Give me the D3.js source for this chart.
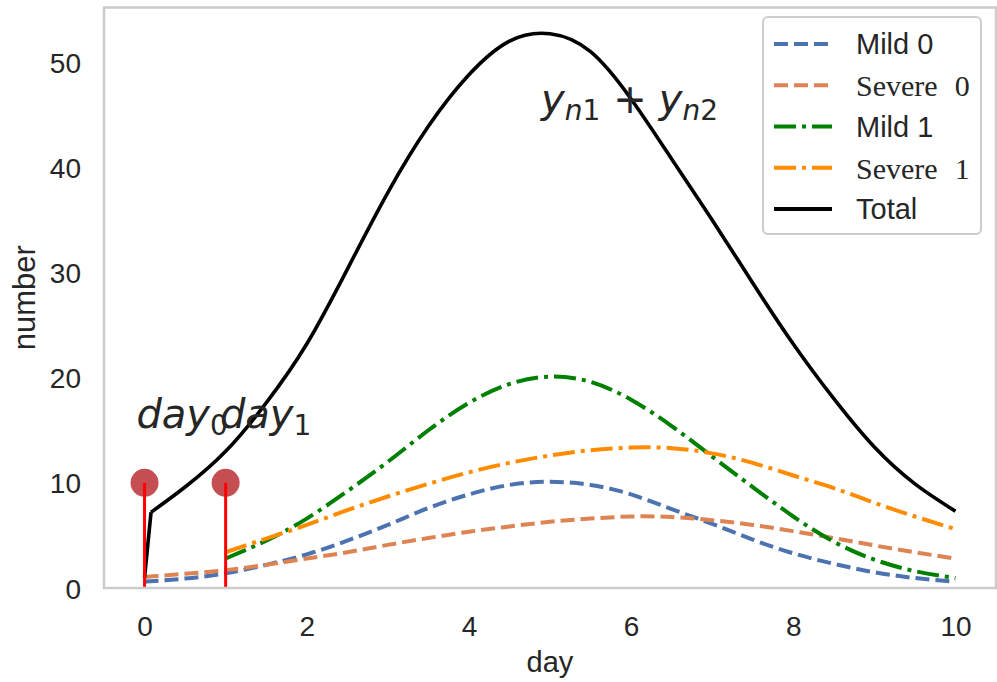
<!DOCTYPE html>
<html>
<head>
<meta charset="utf-8">
<style>
  body { margin: 0; background: #fff; }
  .axis text {
    fill: #262626;
    font-family: "Liberation Sans", Arial, sans-serif;
    font-size: 28px;
  }
  text.axis_title {
    fill: #262626;
    font-family: "Liberation Sans", Arial, sans-serif;
    font-size: 29px;
  }
  .legend text {
    fill: #262626;
  }
  .math {
    fill: #262626;
    font-family: "DejaVu Sans", sans-serif;
  }
</style>
</head>
<body>
<script src="https://d3js.org/d3.v7.min.js"></script>
<script>
// values
var days = [0, 0.5, 1, 1.5, 2, 2.5, 3, 3.5, 4, 4.5, 5, 5.5, 6, 6.5, 7, 7.5, 8, 8.5, 9, 9.5, 10];
var mild0 = [0.6, 0.9, 1.4, 2.2, 3.2, 4.5, 6.0, 7.6, 8.9, 9.8, 10.1, 9.8, 8.9, 7.5, 6.1, 4.6, 3.3, 2.3, 1.5, 0.95, 0.6];
var severe0 = [1.05, 1.35, 1.7, 2.2, 2.8, 3.4, 4.1, 4.75, 5.35, 5.85, 6.3, 6.6, 6.8, 6.75, 6.45, 6.0, 5.4, 4.75, 4.05, 3.4, 2.8];

var days1 = [1, 1.5, 2, 2.5, 3, 3.5, 4, 4.5, 5, 5.5, 6, 6.5, 7, 7.5, 8, 8.5, 9, 9.5, 10];
var mild1 = [2.8, 4.5, 6.6, 9.2, 12.0, 15.0, 17.6, 19.4, 20.1, 19.6, 17.9, 15.4, 12.5, 9.6, 6.8, 4.4, 2.7, 1.6, 0.95];
var severe1 = [3.4, 4.7, 6.0, 7.4, 8.7, 9.9, 11.0, 11.9, 12.6, 13.1, 13.35, 13.3, 12.8, 11.9, 10.7, 9.5, 8.1, 6.8, 5.6];

var totalDays = [0, 0.08, 0.5, 1, 1.5, 2, 2.5, 3, 3.5, 4, 4.5, 5, 5.5, 6, 6.5, 7, 7.5, 8, 8.5, 9, 9.5, 10];
var total = [1.0, 7.2, 9.6, 13.0, 17.6, 23.2, 30.3, 37.6, 43.9, 48.8, 52.0, 52.7, 51.0, 46.5, 40.8, 35.0, 29.0, 23.2, 18.0, 13.4, 9.9, 7.3];

var stemDays = [0, 1];
var stemValues = [10, 10];

var xTicks = [0, 2, 4, 6, 8, 10];
var yTicks = [0, 10, 20, 30, 40, 50];

var seriesNames = ["Mild 0", "Severe 0", "Mild 1", "Severe 1", "Total"];

var series = [
  { name: seriesNames[0], xs: days, ys: mild0, color: "#4c72b0", dash: "14,6" },
  { name: seriesNames[1], xs: days, ys: severe0, color: "#dd8452", dash: "14,6" },
  { name: seriesNames[2], xs: days1, ys: mild1, color: "#008000", dash: "22,6,4,6" },
  { name: seriesNames[3], xs: days1, ys: severe1, color: "#ff8c00", dash: "22,6,4,6" },
  { name: seriesNames[4], xs: totalDays, ys: total, color: "#000000", dash: null }
];

var width = 997, height = 682;
var frame = { left: 104, right: 996, top: 7.5, bottom: 588 };

var x = d3.scaleLinear()
    .domain([-0.5, 10.5])
    .range([frame.left, frame.right]);

var y = d3.scaleLinear()
    .domain([0, 55.2])
    .range([frame.bottom, frame.top]);

var svg = d3.select("body").append("svg")
    .attr("width", width)
    .attr("height", height);

svg.append("defs").append("clipPath")
    .attr("id", "plotclip")
  .append("rect")
    .attr("x", frame.left)
    .attr("y", frame.top)
    .attr("width", frame.right - frame.left)
    .attr("height", frame.bottom - frame.top);

var plot = svg.append("g").attr("clip-path", "url(#plotclip)");

var smooth = d3.line()
    .x(function(d) { return x(d[0]); })
    .y(function(d) { return y(d[1]); })
    .curve(d3.curveNatural);

var straight = d3.line()
    .x(function(d) { return x(d[0]); })
    .y(function(d) { return y(d[1]); });

series.forEach(function(s) {
  var pts = s.xs.map(function(v, i) { return [v, s.ys[i]]; });
  var w = s.dash ? 4 : 3.6;
  if (s.dash) {
    plot.append("path")
      .datum(pts)
      .attr("d", smooth)
      .attr("fill", "none")
      .attr("stroke", s.color)
      .attr("stroke-width", w)
      .attr("stroke-dasharray", s.dash);
  } else {
    // the total jumps right after day 0, then runs smooth
    plot.append("path")
      .datum(pts.slice(0, 2))
      .attr("d", straight)
      .attr("fill", "none")
      .attr("stroke", s.color)
      .attr("stroke-width", w);
    plot.append("path")
      .datum(pts.slice(1))
      .attr("d", smooth)
      .attr("fill", "none")
      .attr("stroke", s.color)
      .attr("stroke-width", w)
      .attr("stroke-linejoin", "round");
  }
});

// stem markers
plot.selectAll("circle.stem")
    .data(stemDays)
    .enter().append("circle")
    .attr("class", "stem")
    .attr("cx", function(d) { return x(d); })
    .attr("cy", function(d, i) { return y(stemValues[i]); })
    .attr("r", 14)
    .attr("fill", "#c44e52");

plot.selectAll("line.stem")
    .data(stemDays)
    .enter().append("line")
    .attr("class", "stem")
    .attr("x1", function(d) { return x(d); })
    .attr("x2", function(d) { return x(d); })
    .attr("y1", y(0))
    .attr("y2", function(d, i) { return y(stemValues[i]); })
    .attr("stroke", "#ff0000")
    .attr("stroke-width", 3);

// frame
svg.append("rect")
    .attr("x", frame.left)
    .attr("y", frame.top)
    .attr("width", frame.right - frame.left)
    .attr("height", frame.bottom - frame.top)
    .attr("fill", "none")
    .attr("stroke", "#cccccc")
    .attr("stroke-width", 2.5);

// axes
var xAxis = svg.append("g")
    .attr("class", "x axis")
    .attr("transform", "translate(0," + frame.bottom + ")")
    .call(d3.axisBottom(x).tickValues(xTicks).tickSize(0).tickFormat(d3.format("d")));
xAxis.select(".domain").remove();
xAxis.selectAll("text").attr("y", 48).attr("dy", null);

var yAxis = svg.append("g")
    .attr("class", "y axis")
    .attr("transform", "translate(" + frame.left + ",0)")
    .call(d3.axisLeft(y).tickValues(yTicks).tickSize(0).tickFormat(d3.format("d")));
yAxis.select(".domain").remove();
yAxis.selectAll("text").attr("x", -23).attr("dy", "0.36em");

svg.append("text")
    .attr("class", "axis_title")
    .attr("x", (frame.left + frame.right) / 2)
    .attr("y", 672)
    .attr("text-anchor", "middle")
    .text("day");

svg.append("text")
    .attr("class", "axis_title")
    .attr("transform", "translate(35," + (frame.top + frame.bottom) / 2 + ") rotate(-90)")
    .attr("text-anchor", "middle")
    .style("font-size", "31px")
    .text("number");

// math annotations: 0 = italic symbol, 1 = upright subscript, 2 = italic subscript, 3 = operator
var notes = [
  { x: -0.1, y: 15.2, parts: [["day", 0], ["0", 1]] },
  { x: 0.93, y: 15.2, parts: [["day", 0], ["1", 1]] },
  { x: 4.89, y: 45.2, parts: [["y", 0], ["n", 2], ["1", 1], ["+", 3], ["y", 0], ["n", 2], ["2", 1]] }
];

notes.forEach(function(n) {
  var t = svg.append("text")
      .attr("class", "math")
      .attr("x", x(n.x))
      .attr("y", y(n.y));
  var sub = false, afterOp = false;
  n.parts.forEach(function(p) {
    var kind = p[1];
    var ts = t.append("tspan").text(p[0]);
    if (kind === 0) {
      ts.attr("font-size", 40).attr("font-style", "italic");
      if (sub) { ts.attr("dy", -7); sub = false; }
      if (afterOp) { ts.attr("dx", 12); afterOp = false; }
    } else if (kind === 3) {
      ts.attr("font-size", 40).attr("dx", 13).attr("dy", sub ? -7 : 0);
      sub = false;
      afterOp = true;
    } else {
      ts.attr("font-size", 28).attr("font-style", kind === 2 ? "italic" : "normal");
      if (!sub) { ts.attr("dy", 7); sub = true; }
    }
  });
});

// legend
var legend = svg.append("g").attr("class", "legend");
legend.append("rect")
    .attr("x", 763)
    .attr("y", 17)
    .attr("width", 218)
    .attr("height", 217)
    .attr("rx", 5)
    .attr("fill", "#ffffff")
    .attr("fill-opacity", 0.8)
    .attr("stroke", "#cccccc")
    .attr("stroke-width", 2);

var rowY = d3.scaleLinear().domain([0, 4]).range([44, 209]);

series.forEach(function(s, i) {
  var ry = rowY(i);
  legend.append("line")
      .attr("x1", 774)
      .attr("x2", 832)
      .attr("y1", ry)
      .attr("y2", ry)
      .attr("stroke", s.color)
      .attr("stroke-width", s.dash ? 4 : 3.8)
      .attr("stroke-dasharray", s.dash);
  var serif = s.name.indexOf("Severe") === 0;
  var t = legend.append("text")
      .attr("x", 856)
      .attr("y", ry)
      .attr("dy", "0.36em")
      .style("font-size", serif ? "30px" : "29px")
      .style("font-family", serif ? "'Liberation Serif', 'Times New Roman', serif" : "'Liberation Sans', Arial, sans-serif");
  if (serif) {
    var bits = s.name.split(" ");
    t.text(bits[0]);
    t.append("tspan").attr("dx", 17).text(bits[1]);
  } else {
    t.text(s.name);
  }
});
</script>
</body>
</html>
